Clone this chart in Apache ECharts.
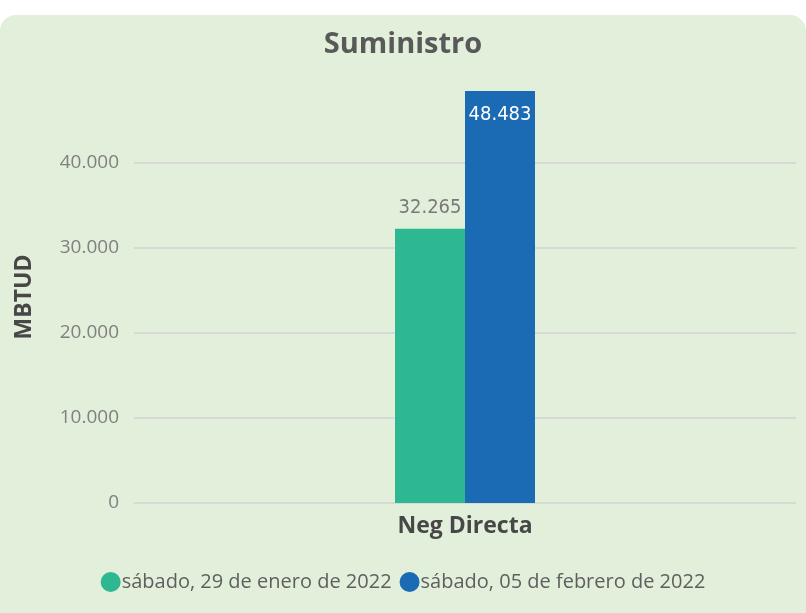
<!DOCTYPE html>
<html>
<head>
<meta charset="utf-8">
<script src="https://cdn.jsdelivr.net/npm/echarts@6/dist/echarts.min.js"></script>
<style>
  html, body { margin: 0; padding: 0; background: #ffffff; }
  #panel {
    position: absolute; left: 0; top: 15px; width: 806px; height: 598px;
    background: #e2efda; border-radius: 16px 16px 0 0; overflow: hidden;
  }
  #chart { width: 806px; height: 598px; }
</style>
</head>
<body>
<div id="panel"><div id="chart"></div></div>
<script>
// datos
const categories = ["Neg Directa"];
const seriesNames = ["sábado, 29 de enero de 2022", "sábado, 05 de febrero de 2022"];
const valuesJan29 = [32265];
const valuesFeb05 = [48483];
const seriesColors = ["#2db891", "#1a6bb4"];

// formato con punto de miles
const fmt = (v) => String(Math.round(v)).replace(/\B(?=(\d{3})+(?!\d))/g, ".");

const chart = echarts.init(document.getElementById("chart"));
chart.setOption({
  animation: false,
  title: {
    text: "Suministro",
    left: "center",
    top: 10,
    textStyle: { fontFamily: "Open Sans", fontWeight: "bold", fontSize: 29, color: "#595959" },
  },
  legend: {
    bottom: 16,
    left: "center",
    icon: "circle",
    itemWidth: 20,
    itemHeight: 20,
    itemGap: 8,
    textStyle: { fontFamily: "Open Sans", fontSize: 20, color: "#5f5f5f", padding: [0, 0, 0, -4] },
  },
  grid: { left: 134, right: 10, top: 76, bottom: 110 },
  xAxis: {
    type: "category",
    data: categories,
    axisTick: { show: false },
    axisLine: { lineStyle: { color: "#d6d9d4" } },
    axisLabel: {
      margin: 12,
      fontFamily: "Open Sans",
      fontWeight: "bold",
      fontSize: 23,
      color: "#474747",
    },
  },
  yAxis: {
    type: "value",
    min: 0,
    max: (v) => v.max,
    interval: 10000,
    name: "MBTUD",
    nameLocation: "middle",
    nameGap: 98,
    nameTextStyle: { fontFamily: "Open Sans", fontWeight: "bold", fontSize: 23, color: "#474747" },
    axisLabel: {
      margin: 15,
      fontFamily: "Open Sans",
      fontSize: 19,
      color: "#808080",
      showMaxLabel: false,
      formatter: (v) => fmt(v),
    },
    splitLine: { showMaxLine: false, lineStyle: { color: "#d6d9d4", width: 2 } },
  },
  series: [
    {
      name: seriesNames[0],
      type: "bar",
      data: valuesJan29,
      barWidth: 70,
      barGap: "0%",
      itemStyle: { color: seriesColors[0] },
      label: {
        show: true,
        position: "top",
        distance: 11,
        fontFamily: "DejaVu Sans Condensed",
        fontSize: 20,
        color: "#7a7a7a",
        formatter: (p) => fmt(p.value),
      },
    },
    {
      name: seriesNames[1],
      type: "bar",
      data: valuesFeb05,
      barWidth: 70,
      barGap: "0%",
      itemStyle: { color: seriesColors[1] },
      label: {
        show: true,
        position: "insideTop",
        distance: 14,
        fontFamily: "DejaVu Sans Condensed",
        fontSize: 20,
        color: "#ffffff",
        formatter: (p) => fmt(p.value),
      },
    },
  ],
});
</script>
</body>
</html>
